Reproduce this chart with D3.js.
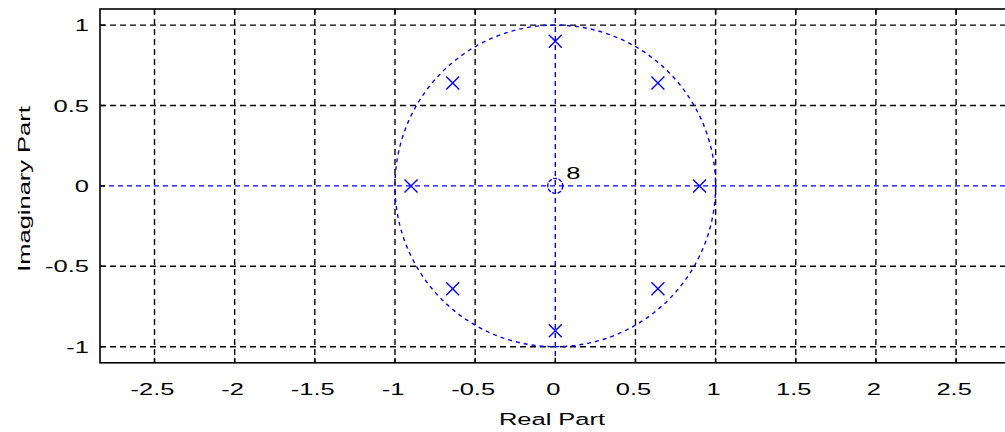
<!DOCTYPE html>
<html>
<head>
<meta charset="utf-8">
<script src="https://cdn.jsdelivr.net/npm/d3@7"></script>
<style>
  html, body { margin: 0; padding: 0; background: #fff; }
  svg { display: block; }
  text { font-family: "Liberation Sans", Arial, sans-serif; fill: #000; }
</style>
</head>
<body>
<svg id="chart" width="1005" height="432"></svg>
<script>
// ---- data ----
const xTicks = [-2.5, -2, -1.5, -1, -0.5, 0, 0.5, 1, 1.5, 2, 2.5];
const yTicks = [-1, -0.5, 0, 0.5, 1];
const poleRe = [0.9, 0.64, 0, -0.64, -0.9, -0.64, 0, 0.64];
const poleIm = [0, 0.64, 0.9, 0.64, 0, -0.64, -0.9, -0.64];
const zeroRe = [0];
const zeroIm = [0];
const zeroMultiplicity = ["8"];
const xLabel = "Real Part";
const yLabel = "Imaginary Part";
const xDomain = [-2.84, 2.84];
const yDomain = [-1.1, 1.1];

(function () {
// ---- layout ----
const svg = d3.select("#chart");
const pL = 100, pR = 1010.6, pT = 9, pB = 362.8;
const x = d3.scaleLinear().domain(xDomain).range([pL, pR]);
const y = d3.scaleLinear().domain(yDomain).range([pB, pT]);
const fmt = d => (d < 0 ? "-" : "") + String(Math.abs(d));
const fs = 17, sx = 1.5;

svg.append("defs").append("clipPath").attr("id", "clip")
  .append("rect").attr("x", pL).attr("y", pT)
  .attr("width", pR - pL).attr("height", pB - pT);

const plot = svg.append("g").attr("clip-path", "url(#clip)");

// grid (the zero lines are covered by the blue axis lines)
plot.selectAll("line.gx").data(xTicks.filter(d => d !== 0)).enter().append("line")
  .attr("x1", d => x(d)).attr("x2", d => x(d))
  .attr("y1", pT).attr("y2", pB)
  .attr("stroke", "#000").attr("stroke-width", 1.4).attr("stroke-dasharray", "6,4");
plot.selectAll("line.gy").data(yTicks.filter(d => d !== 0)).enter().append("line")
  .attr("x1", pL).attr("x2", pR)
  .attr("y1", d => y(d)).attr("y2", d => y(d))
  .attr("stroke", "#000").attr("stroke-width", 1.4).attr("stroke-dasharray", "6,4");

// blue axis lines
const blue = "#0000ff";
plot.append("line").attr("x1", pL).attr("x2", pR).attr("y1", y(0)).attr("y2", y(0))
  .attr("stroke", blue).attr("stroke-width", 1.4).attr("stroke-dasharray", "5,4");
plot.append("line").attr("x1", x(0)).attr("x2", x(0)).attr("y1", pT).attr("y2", pB)
  .attr("stroke", blue).attr("stroke-width", 1.4).attr("stroke-dasharray", "5,4");

// unit circle
plot.append("ellipse").attr("cx", x(0)).attr("cy", y(0))
  .attr("rx", x(1) - x(0)).attr("ry", y(0) - y(1))
  .attr("fill", "none").attr("stroke", blue).attr("stroke-width", 1.4)
  .attr("stroke-dasharray", "4,4");

// poles (x markers)
const s = 6.5;
const poles = poleRe.map((r, i) => ({ re: r, im: poleIm[i] }));
const pg = plot.selectAll("g.pole").data(poles).enter().append("g")
  .attr("transform", d => `translate(${x(d.re)},${y(d.im)})`);
pg.append("path").attr("d", `M${-s},${-s}L${s},${s}M${-s},${s}L${s},${-s}`)
  .attr("stroke", blue).attr("stroke-width", 1.4).attr("fill", "none");

// zeros (o markers)
const zeros = zeroRe.map((r, i) => ({ re: r, im: zeroIm[i], m: zeroMultiplicity[i] }));
plot.selectAll("circle.zero").data(zeros).enter().append("circle")
  .attr("cx", d => x(d.re)).attr("cy", d => y(d.im)).attr("r", 7.5)
  .attr("fill", "none").attr("stroke", blue).attr("stroke-width", 1.4)
  .attr("stroke-dasharray", "4,1.5");
svg.selectAll("g.mult").data(zeros).enter().append("g")
  .attr("transform", d => `translate(${x(d.re) + 11},${y(d.im) - 7}) scale(${sx},1)`)
  .append("text").attr("font-size", fs).text(d => d.m);

// frame (left, top, bottom; right edge lies outside the window)
svg.append("rect").attr("x", pL).attr("y", pT)
  .attr("width", pR - pL).attr("height", pB - pT)
  .attr("fill", "none").attr("stroke", "#000").attr("stroke-width", 1.6);

// ticks (inward)
const tl = 5;
svg.selectAll("line.tb").data(xTicks).enter().append("line")
  .attr("x1", d => x(d)).attr("x2", d => x(d)).attr("y1", pB).attr("y2", pB - tl)
  .attr("stroke", "#000").attr("stroke-width", 1.4);
svg.selectAll("line.tt").data(xTicks).enter().append("line")
  .attr("x1", d => x(d)).attr("x2", d => x(d)).attr("y1", pT).attr("y2", pT + tl)
  .attr("stroke", "#000").attr("stroke-width", 1.4);
svg.selectAll("line.tl").data(yTicks).enter().append("line")
  .attr("x1", pL).attr("x2", pL + tl).attr("y1", d => y(d)).attr("y2", d => y(d))
  .attr("stroke", "#000").attr("stroke-width", 1.4);

// tick labels
svg.selectAll("g.xt").data(xTicks).enter().append("g")
  .attr("transform", d => `translate(${x(d) - 2},395) scale(${sx},1)`)
  .append("text").attr("text-anchor", "middle").attr("font-size", fs).text(fmt);
svg.selectAll("g.yt").data(yTicks).enter().append("g")
  .attr("transform", d => `translate(89,${y(d)}) scale(${sx},1)`)
  .append("text").attr("dy", "0.36em").attr("text-anchor", "end")
  .attr("font-size", fs).text(fmt);

// axis labels
svg.append("g").attr("transform", `translate(552,425) scale(${sx},1)`)
  .append("text").attr("text-anchor", "middle").attr("font-size", fs).text(xLabel);
svg.append("g").attr("transform", `translate(30,189) rotate(-90) scale(${sx},1)`)
  .append("text").attr("text-anchor", "middle").attr("font-size", fs).text(yLabel);
})();
</script>
</body>
</html>
